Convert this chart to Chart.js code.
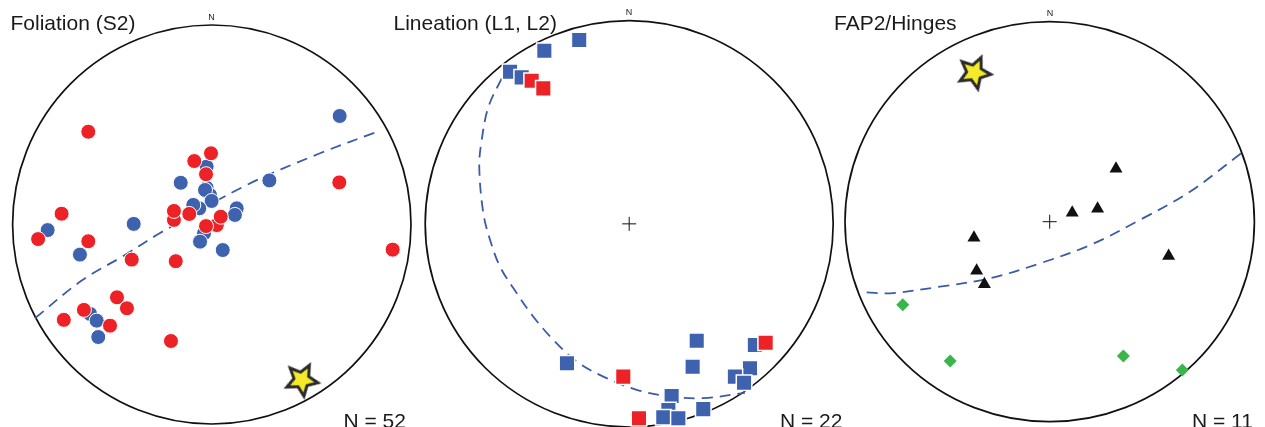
<!DOCTYPE html>
<html>
<head>
<meta charset="utf-8">
<script src="https://cdn.jsdelivr.net/npm/chart.js@4.4.1/dist/chart.umd.min.js"></script>
<style>
  body { margin: 0; background: #fff; }
  #wrap { position: relative; width: 1265px; height: 427px; overflow: hidden; background: #fff;
          font-family: "Liberation Sans", Arial, sans-serif; color: #1a1a1a; }
  #wrap canvas { position: absolute; left: 0; top: 0; width: 1265px; height: 427px; }
  .title, .count { position: absolute; font-size: 21px; line-height: 21px; white-space: nowrap; }
  .north { position: absolute; width: 40px; text-align: center; font-size: 9px; line-height: 9px; }
</style>
</head>
<body>
<div id="wrap">
  <canvas id="foliation-chart" width="1265" height="427"></canvas>
  <canvas id="lineation-chart" width="1265" height="427"></canvas>
  <canvas id="hinge-chart" width="1265" height="427"></canvas>
</div>
<script>
// Stereonet units: primitive circle radius = 100, x = east, y = north
const panelTitles = ['Foliation (S2)', 'Lineation (L1, L2)', 'FAP2/Hinges'];
const panelCounts = [52, 22, 11];

// Foliation (S2)
const foliationBlue = [
  [64.2, 54.4], [28.9, 22.1], [-15.6, 20.9], [-2.6, 29.0], [-2.6, 18.4], [-0.9, 14.8],
  [-3.4, 17.3], [-0.1, 11.8], [-6.3, 8.1], [-9.3, 9.8], [12.5, 8.1], [11.6, 4.8],
  [-3.9, -4.4], [-5.9, -8.6], [5.5, -12.8], [-82.4, -2.8], [-39.2, 0.3], [-66.2, -15.1],
  [-61.1, -44.8], [-57.8, -48.2], [-57.0, -56.4]
];
const foliationRed = [
  [-62.0, 46.5], [-0.4, 35.7], [-8.8, 31.8], [-2.9, 25.2], [64.0, 21.1], [-75.4, 5.4],
  [-87.2, -7.3], [-62.0, -8.4], [-19.0, 2.3], [-19.0, 6.8], [-11.3, 5.3], [2.5, -0.3],
  [4.5, 3.9], [-2.9, -0.8], [-40.2, -17.6], [-18.1, -18.4], [90.8, -12.6], [-47.6, -36.5],
  [-42.6, -42.0], [-51.1, -50.7], [-64.2, -42.8], [-74.3, -47.8], [-20.5, -58.4]
];
const foliationGirdle = [
  [-88.8, -47.0], [-65.3, -28.1], [-43.6, -15.3], [-26.0, -4.3], [17.5, 19.8], [54.3, 35.7], [84.4, 47.0]
];
const foliationStar = [[45.1, -77.9]];

// Lineation (L1, L2)
const lineationBlue = [
  [-24.5, 90.5], [-41.6, 85.2], [-58.4, 74.9], [-52.7, 72.1], [33.1, -57.5], [31.1, -70.3],
  [61.6, -59.6], [59.2, -71.1], [51.8, -75.2], [56.3, -78.2], [20.8, -84.7], [19.2, -91.6],
  [16.7, -95.2], [24.1, -95.7], [36.3, -91.2], [-30.5, -68.6]
];
const lineationRed = [
  [-47.8, 70.4], [-42.1, 66.7], [66.9, -58.5], [4.8, -95.7], [-2.9, -75.2]
];
const lineationGirdle = [
  [-62.5, 71.6], [-69.0, 57.6], [-72.3, 41.3], [-73.5, 28.1], [-71.5, 5.2], [-68.2, -7.9],
  [-63.3, -21.1], [-55.1, -34.2], [-47.0, -45.7], [-37.2, -57.1], [-25.7, -67.8],
  [-12.7, -75.2], [3.7, -81.7], [20.0, -85.0], [36.3, -85.8], [56.7, -83.2]
];

// FAP2/Hinges
const hingeTriangles = [
  [32.4, 26.5], [11.0, 4.5], [23.4, 6.5], [-37.0, -8.0], [-35.7, -24.5], [-31.9, -31.3], [58.1, -17.2]
];
const hingeDiamonds = [
  [-71.8, -41.5], [-48.6, -69.7], [36.0, -67.2], [64.8, -74.2]
];
const hingeGirdle = [
  [-89.4, -35.3], [-78.0, -35.8], [-53.6, -32.5], [-29.2, -28.3], [-4.7, -20.8],
  [19.7, -11.7], [44.1, 0.9], [68.5, 15.0], [94.6, 35.0]
];
const hingeStar = [[-36.8, 74.5]];

const centre = [[0, 0]];

// Layout of each net on the shared canvas
const panelLayout = [
  { id: 'foliation-chart', padding: { left: 12.6, right: 854, top: 25, bottom: 3 },
    titleX: 10.5, northX: 211.5, northY: 12.9, countX: 343.5 },
  { id: 'lineation-chart', padding: { left: 425.2, right: 431.8, top: 20.7, bottom: 0 },
    titleX: 393.5, northX: 629, northY: 8.1, countX: 780 },
  { id: 'hinge-chart', padding: { left: 845, right: 10.6, top: 21.7, bottom: 5.3 },
    titleX: 834, northX: 1050, northY: 9, countX: 1192 }
];

const BLUE = '#3e62ad';
const RED = '#ec2227';

// Star marker drawn once on a small canvas
function makeStar() {
  const c = document.createElement('canvas');
  c.width = 50;
  c.height = 50;
  const g = c.getContext('2d');
  g.beginPath();
  for (let i = 0; i < 10; i++) {
    const r = i % 2 ? 7.8 : 16.5;
    const a = -Math.PI / 2 + i * Math.PI / 5;
    g.lineTo(25 + r * Math.cos(a), 25 + r * Math.sin(a));
  }
  g.closePath();
  g.fillStyle = '#f4ea2a';
  g.fill();
  g.lineWidth = 3;
  g.lineJoin = 'miter';
  g.strokeStyle = '#2a2a2a';
  g.stroke();
  return c;
}
const starImage = makeStar();

function toXY(points) {
  return points.map(p => ({ x: p[0], y: p[1] }));
}

function markers(points, style, color, radius, order, extra) {
  return Object.assign({
    data: toXY(points),
    showLine: false,
    pointStyle: style,
    pointRadius: radius,
    pointBackgroundColor: color,
    pointBorderColor: '#fff',
    pointBorderWidth: 1,
    clip: false,
    order: order
  }, extra || {});
}

function girdle(points) {
  return {
    data: toXY(points),
    showLine: true,
    borderColor: '#3b5ba8',
    borderWidth: 1.8,
    borderDash: [11, 7],
    pointRadius: 0,
    tension: 0.35,
    fill: false,
    clip: false,
    order: 10
  };
}

function cross() {
  return markers(centre, 'cross', 'transparent', 7, 11, { pointBorderColor: '#111', pointBorderWidth: 1 });
}

function star(points, rotation) {
  return markers(points, starImage, '#f4ea2a', 10, 0, { pointRotation: rotation });
}

// Primitive circle, drawn under the data
const primitivePlugin = {
  id: 'primitive',
  beforeDatasetsDraw(chart) {
    const { ctx, scales: { x, y } } = chart;
    const cx = x.getPixelForValue(0);
    const cy = y.getPixelForValue(0);
    const rx = x.getPixelForValue(100) - cx;
    const ry = cy - y.getPixelForValue(100);
    ctx.save();
    ctx.beginPath();
    ctx.ellipse(cx, cy, rx, ry, 0, 0, Math.PI * 2);
    ctx.lineWidth = 1.7;
    ctx.strokeStyle = '#111';
    ctx.stroke();
    ctx.restore();
  }
};

function createNet(layout, datasets) {
  const ctx = document.getElementById(layout.id).getContext('2d');
  return new Chart(ctx, {
    type: 'scatter',
    data: { datasets: datasets },
    options: {
      responsive: false,
      animation: false,
      events: [],
      layout: { padding: layout.padding, autoPadding: false },
      plugins: {
        legend: { display: false },
        tooltip: { enabled: false }
      },
      scales: {
        x: { type: 'linear', min: -100, max: 100, display: false },
        y: { type: 'linear', min: -100, max: 100, display: false }
      }
    },
    plugins: [primitivePlugin]
  });
}

const charts = {
  foliation: createNet(panelLayout[0], [
    star(foliationStar, 28),
    markers(foliationRed, 'circle', RED, 7.5, 1),
    markers(foliationBlue, 'circle', BLUE, 7.5, 2),
    girdle(foliationGirdle)
  ]),
  lineation: createNet(panelLayout[1], [
    markers(lineationRed, 'rect', RED, 11, 1, { pointBorderWidth: 1.5 }),
    markers(lineationBlue, 'rect', BLUE, 11, 2, { pointBorderWidth: 1.5 }),
    girdle(lineationGirdle),
    cross()
  ]),
  hinge: createNet(panelLayout[2], [
    star(hingeStar, 24),
    markers(hingeTriangles, 'triangle', '#111', 7.5, 1, { pointBorderWidth: 0 }),
    markers(hingeDiamonds, 'rectRot', '#39b54a', 6.5, 2, { pointBorderWidth: 0 }),
    girdle(hingeGirdle),
    cross()
  ])
};

// Titles, north marks and counts
const wrap = document.getElementById('wrap');
function addText(cls, text, left, top) {
  const el = document.createElement('div');
  el.className = cls;
  el.textContent = text;
  el.style.left = left + 'px';
  el.style.top = top + 'px';
  wrap.appendChild(el);
}
panelLayout.forEach((layout, i) => {
  addText('title', panelTitles[i], layout.titleX, 11.5);
  addText('north', 'N', layout.northX - 20, layout.northY);
  addText('count', 'N = ' + panelCounts[i], layout.countX, 409.5);
});
</script>
</body>
</html>
